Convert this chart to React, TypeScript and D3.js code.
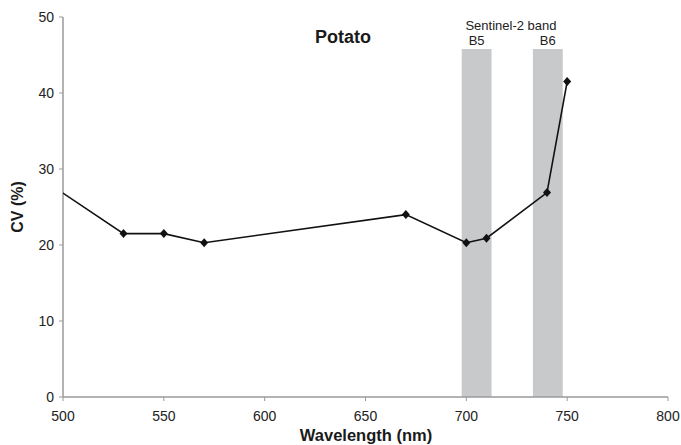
import React from "react";
import * as d3 from "d3";

const wavelengths = [490, 530, 550, 570, 670, 700, 710, 740, 750];
const cvValues = [28.6, 21.5, 21.5, 20.3, 24.0, 20.3, 20.9, 26.9, 41.5];
const xTicks = [500, 550, 600, 650, 700, 750, 800];
const yTicks = [0, 10, 20, 30, 40, 50];
const bandNames = ["B5", "B6"];
const bandStart = [697.7, 733];
const bandEnd = [712.5, 747.8];

const W = 681;
const H = 445;

export default function App() {
  const x = d3.scaleLinear().domain([500, 800]).range([63, 668]);
  const y = d3.scaleLinear().domain([0, 50]).range([397, 17]);
  const pts = wavelengths.map((w, i) => [w, cvValues[i]] as [number, number]);
  const line = d3
    .line<[number, number]>()
    .x((d) => x(d[0]))
    .y((d) => y(d[1]));
  const axisColor = "#9a9a9c";
  const font = "'Liberation Sans', Arial, sans-serif";
  const bandTop = 49;
  return (
    <svg
      width={W}
      height={H}
      style={{ position: "absolute", left: 0, top: 0, background: "#fff" }}
      fontFamily={font}
    >
      <defs>
        <clipPath id="plot">
          <rect x={x(500)} y={0} width={x(800) - x(500)} height={y(0)} />
        </clipPath>
      </defs>
      {bandNames.map((b, i) => (
        <g key={b}>
          <rect
            x={x(bandStart[i])}
            y={bandTop}
            width={x(bandEnd[i]) - x(bandStart[i])}
            height={y(0) - bandTop}
            fill="#c8c9cb"
          />
          <text
            x={(x(bandStart[i]) + x(bandEnd[i])) / 2}
            y={45}
            textAnchor="middle"
            fontSize={13}
            fill="#222"
          >
            {b}
          </text>
        </g>
      ))}
      <text x={511} y={30} textAnchor="middle" fontSize={13} fill="#222">
        Sentinel-2 band
      </text>
      <text x={343} y={43} textAnchor="middle" fontSize={18} fontWeight="bold" fill="#1a1a1a">
        Potato
      </text>
      {/* axes */}
      <line x1={x(500)} x2={x(500)} y1={y(50)} y2={y(0)} stroke={axisColor} strokeWidth={1.5} />
      <line x1={x(500)} x2={x(800)} y1={y(0)} y2={y(0)} stroke={axisColor} strokeWidth={1.5} />
      {yTicks.map((t) => (
        <g key={"y" + t}>
          <line x1={x(500) - 4} x2={x(500)} y1={y(t)} y2={y(t)} stroke={axisColor} strokeWidth={1} />
          <text x={x(500) - 9} y={y(t) + 5} textAnchor="end" fontSize={14} fill="#222">
            {t}
          </text>
        </g>
      ))}
      {xTicks.map((t) => (
        <g key={"x" + t}>
          <line x1={x(t)} x2={x(t)} y1={y(0)} y2={y(0) + 4} stroke={axisColor} strokeWidth={1} />
          <text x={x(t)} y={y(0) + 24} textAnchor="middle" fontSize={14} fill="#222">
            {t}
          </text>
        </g>
      ))}
      <text
        x={366}
        y={440.5}
        textAnchor="middle"
        fontSize={16.5}
        fontWeight="bold"
        fill="#1a1a1a"
      >
        Wavelength (nm)
      </text>
      <text
        transform={`translate(23, ${y(25)}) rotate(-90)`}
        textAnchor="middle"
        fontSize={16}
        fontWeight="bold"
        fill="#1a1a1a"
      >
        CV (%)
      </text>
      <g clipPath="url(#plot)">
        <path d={line(pts) || ""} fill="none" stroke="#111" strokeWidth={1.6} />
        {pts.map((p, i) => (
          <path
            key={i}
            d={`M${x(p[0])},${y(p[1]) - 4.5}L${x(p[0]) + 4},${y(p[1])}L${x(p[0])},${y(p[1]) + 4.5}L${x(p[0]) - 4},${y(p[1])}Z`}
            fill="#111"
          />
        ))}
      </g>
    </svg>
  );
}
